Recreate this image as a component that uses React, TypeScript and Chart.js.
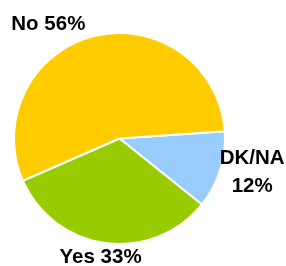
import React, { useEffect, useRef } from "react";
import { Chart, registerables } from "chart.js";

Chart.register(...registerables);

const categories = ["DK/NA", "Yes", "No"];
const values = [12, 33, 56];
const labelLines = [["DK/NA", "12%"], ["Yes 33%"], ["No 56%"]];
const colors = ["#99CCFF", "#99CC00", "#FFCC00"];
const labelOffsets = [
  { dx: 32, dy: -6 },
  { dx: -5, dy: 20 },
  { dx: -46, dy: -6 },
];

const labelPlugin = {
  id: "outerLabels",
  afterDraw(chart: any) {
    const ctx = chart.ctx;
    const meta = chart.getDatasetMeta(0);
    ctx.save();
    ctx.font = "bold 20.5px 'Liberation Sans', Arial, sans-serif";
    ctx.fillStyle = "#000000";
    ctx.textAlign = "center";
    ctx.textBaseline = "alphabetic";
    meta.data.forEach((el: any, i: number) => {
      const p = el.getProps(["x", "y", "startAngle", "endAngle", "outerRadius"], true);
      const mid = (p.startAngle + p.endAngle) / 2;
      const ax = p.x + Math.cos(mid) * p.outerRadius + labelOffsets[i].dx;
      const ay = p.y + Math.sin(mid) * p.outerRadius + labelOffsets[i].dy;
      labelLines[i].forEach((line, j) => {
        ctx.fillText(line, ax, ay + j * 27.5);
      });
    });
    ctx.restore();
  },
};

export default function App() {
  const ref = useRef<HTMLCanvasElement>(null);
  useEffect(() => {
    if (!ref.current) return;
    const chart = new Chart(ref.current, {
      type: "pie",
      data: {
        labels: categories,
        datasets: [
          {
            data: values,
            backgroundColor: colors,
            borderColor: "#FFFFFF",
            borderWidth: 2,
          },
        ],
      },
      options: {
        animation: false,
        responsive: false,
        rotation: 86,
        layout: { padding: { left: 13, right: 60, top: 32, bottom: 21 } },
        plugins: {
          legend: { display: false },
          tooltip: { enabled: false },
        },
      },
      plugins: [labelPlugin],
    });
    return () => chart.destroy();
  }, []);
  return (
    <div style={{ position: "fixed", left: 0, top: 0, width: 286, height: 266, background: "#fff" }}>
      <canvas ref={ref} width={286} height={266} style={{ width: 286, height: 266 }} />
    </div>
  );
}
